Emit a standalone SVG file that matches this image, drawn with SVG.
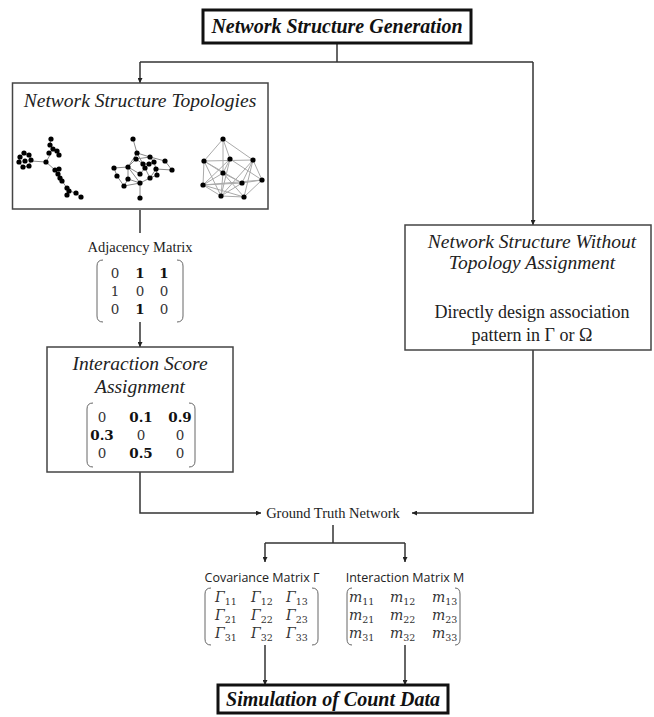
<svg xmlns="http://www.w3.org/2000/svg" width="654" height="717" viewBox="0 0 654 717">
<defs>
<marker id="ah" viewBox="0 0 10 10" refX="10" refY="5" markerWidth="5" markerHeight="5" orient="auto" markerUnits="userSpaceOnUse">
<path d="M0,0 L10,5 L0,10 z" fill="#222"/>
</marker>
<style>
.box{fill:#fff;stroke:#444;stroke-width:1.5}
.thick{fill:#fff;stroke:#111;stroke-width:3}
.conn{fill:none;stroke:#333;stroke-width:1.5}
.arr{fill:none;stroke:#333;stroke-width:1.5;marker-end:url(#ah)}
.ti{font-family:"Liberation Serif",serif;font-style:italic;fill:#222;text-anchor:middle}
.tb{font-family:"Liberation Serif",serif;font-style:italic;font-weight:bold;fill:#111;text-anchor:middle;font-size:20px}
.tr{font-family:"Liberation Serif",serif;fill:#222;text-anchor:middle}
.ts{font-family:"Open Sans","Noto Sans",sans-serif;fill:#222;text-anchor:middle;font-size:12.5px}
.mn{font-family:"DejaVu Serif",serif;fill:#333;text-anchor:middle;font-size:13.5px}
.mb{font-weight:bold;fill:#111}
.mi{font-family:"DejaVu Serif",serif;font-style:italic;fill:#333;font-size:14px}
.sub{font-size:9.5px;font-style:normal}
.par{fill:none;stroke:#666;stroke-width:1}
.e{stroke:#8a8a8a;stroke-width:1;fill:none}
.e2{stroke:#aaa;stroke-width:1;fill:none}
.n{fill:#000}
</style>
</defs>

<g id="connectors">
<line class="conn" x1="337" y1="43" x2="337" y2="62"/>
<line class="conn" x1="140" y1="62" x2="533" y2="62"/>
<line class="arr" x1="140" y1="62" x2="140" y2="83"/>
<line class="arr" x1="533" y1="62" x2="533" y2="225"/>
<line class="conn" x1="140" y1="210" x2="140" y2="233"/>
<line class="arr" x1="140" y1="322" x2="140" y2="347"/>
<polyline class="arr" points="140,472 140,513 261,513"/>
<polyline class="arr" points="533,350 533,513 412,513"/>
<line class="conn" x1="333" y1="525" x2="333" y2="543"/>
<line class="conn" x1="265" y1="543" x2="405" y2="543"/>
<line class="arr" x1="265" y1="543" x2="265" y2="562"/>
<line class="arr" x1="405" y1="543" x2="405" y2="562"/>
<line class="arr" x1="265" y1="645" x2="265" y2="685"/>
<line class="arr" x1="405" y1="645" x2="405" y2="685"/>
</g>

<g id="generation">
<rect class="thick" x="203" y="10" width="268" height="33"/>
<text class="tb" x="337" y="33">Network Structure Generation</text>
</g>

<g id="topologies">
<rect class="box" x="12.5" y="83" width="255.5" height="126"/>
<text class="ti" x="140" y="107" font-size="19.5">Network Structure Topologies</text>
<g id="tree">
<path class="e" d="M31,161 L46,162 L50,155 L51,151 L53,149 L50,145 L51,139 M53,149 L57,151 L59,154 M46,162 L55,170 L58,174 L60,177 L62,181 L67,188 L69,191 L76,193 L81,197 M55,170 L59,169 M69,191 L67,194 M20,157 L24,153 L29,155 L31,160 L29,166 L23,167 L19,162 Z"/>
<g class="n">
<circle cx="46" cy="162" r="2.6"/>
<circle cx="20" cy="157" r="2.6"/><circle cx="24" cy="153" r="2.6"/><circle cx="29" cy="155" r="2.6"/><circle cx="31" cy="160" r="2.6"/><circle cx="29" cy="166" r="2.6"/><circle cx="23" cy="167" r="2.6"/><circle cx="19" cy="162" r="2.6"/><circle cx="25" cy="161" r="2.6"/>
<circle cx="51" cy="139" r="2.6"/><circle cx="50" cy="145" r="2.6"/><circle cx="53" cy="149" r="2.6"/><circle cx="49" cy="153" r="2.6"/><circle cx="57" cy="151" r="2.6"/><circle cx="59" cy="155" r="2.6"/>
<circle cx="55" cy="170" r="2.6"/><circle cx="59" cy="169" r="2.6"/><circle cx="58" cy="174" r="2.6"/><circle cx="60" cy="178" r="2.6"/><circle cx="62" cy="181" r="2.6"/><circle cx="67" cy="188" r="2.6"/><circle cx="69" cy="191" r="2.6"/><circle cx="67" cy="195" r="2.6"/><circle cx="76" cy="193" r="2.6"/><circle cx="81" cy="197" r="2.6"/>
</g>
</g>
<g id="mesh">
<path class="e" d="M133,139 L137,153 L150,157 L165,161 L172,170 L156,169 L157,175 L150,178 L140,183 L128,179 L124,186 L117,176 L114,168 L128,167 L137,153 M128,167 L136,159 L143,164 L149,164 L154,162 L150,157 M143,164 L145,168 L140,174 L128,167 L140,183 L140,198 M145,168 L150,178 M149,164 L145,168 M154,162 L156,169 M136,159 L150,157 M124,186 L140,183 M156,169 L150,178 M128,179 L128,167 M137,153 L143,164"/>
<g class="n">
<circle cx="133" cy="139" r="2.6"/><circle cx="137" cy="153" r="2.6"/><circle cx="150" cy="157" r="2.6"/><circle cx="136" cy="159" r="2.6"/><circle cx="165" cy="161" r="2.6"/><circle cx="143" cy="164" r="2.6"/><circle cx="149" cy="164" r="2.6"/><circle cx="154" cy="162" r="2.6"/><circle cx="114" cy="168" r="2.6"/><circle cx="128" cy="167" r="2.6"/><circle cx="145" cy="168" r="2.6"/><circle cx="156" cy="169" r="2.6"/><circle cx="172" cy="170" r="2.6"/><circle cx="140" cy="174" r="2.6"/><circle cx="117" cy="176" r="2.6"/><circle cx="157" cy="175" r="2.6"/><circle cx="150" cy="178" r="2.6"/><circle cx="128" cy="179" r="2.6"/><circle cx="124" cy="186" r="2.6"/><circle cx="140" cy="183" r="2.6"/><circle cx="140" cy="198" r="2.6"/>
</g>
</g>
<g id="dense">
<path class="e2" d="M223,139 L204,161 M223,139 L230,159 M223,139 L253,160 M223,139 L223,173 M204,161 L253,160 M204,161 L223,173 M204,161 L203,185 M204,161 L242,183 M204,161 L221,196 M230,159 L223,173 M230,159 L203,185 M230,159 L221,196 M230,159 L262,180 M253,160 L262,180 M253,160 L242,183 M253,160 L244,197 M253,160 L221,196 M223,173 L203,185 M223,173 L242,183 M223,173 L244,197 M223,173 L221,196 M203,185 L221,196 M203,185 L242,183 M203,185 L244,197 M242,183 L262,180 M242,183 L221,196 M262,180 L244,197 M221,196 L244,197 M203,185 L262,180"/>
<g class="n">
<circle cx="223" cy="139" r="2.6"/><circle cx="204" cy="161" r="2.6"/><circle cx="230" cy="159" r="2.6"/><circle cx="253" cy="160" r="2.6"/><circle cx="223" cy="173" r="2.6"/><circle cx="203" cy="185" r="2.6"/><circle cx="242" cy="183" r="2.6"/><circle cx="262" cy="180" r="2.6"/><circle cx="221" cy="196" r="2.6"/><circle cx="244" cy="197" r="2.6"/>
</g>
</g>
</g>

<g id="adjacency">
<text class="tr" x="140" y="252" font-size="14.5">Adjacency Matrix</text>
<path class="par" d="M103,260 Q97,260 97,266 L97,316 Q97,322 103,322"/>
<path class="par" d="M177,260 Q183,260 183,266 L183,316 Q183,322 177,322"/>
<text class="mn" x="115" y="278">0</text><text class="mn mb" x="140" y="278">1</text><text class="mn mb" x="164" y="278">1</text>
<text class="mn" x="115" y="296">1</text><text class="mn" x="140" y="296">0</text><text class="mn" x="164" y="296">0</text>
<text class="mn" x="115" y="314">0</text><text class="mn mb" x="140" y="314">1</text><text class="mn" x="164" y="314">0</text>
</g>

<g id="interaction">
<rect class="box" x="47" y="347" width="186" height="125"/>
<text class="ti" x="140" y="370" font-size="19.5">Interaction Score</text>
<text class="ti" x="140" y="393" font-size="19.5">Assignment</text>
<path class="par" d="M93,403 Q87,403 87,409 L87,461 Q87,467 93,467"/>
<path class="par" d="M189,403 Q195,403 195,409 L195,461 Q195,467 189,467"/>
<text class="mn" x="102" y="422">0</text><text class="mn mb" x="141" y="422">0.1</text><text class="mn mb" x="180" y="422">0.9</text>
<text class="mn mb" x="102" y="440">0.3</text><text class="mn" x="141" y="440">0</text><text class="mn" x="180" y="440">0</text>
<text class="mn" x="102" y="458">0</text><text class="mn mb" x="141" y="458">0.5</text><text class="mn" x="180" y="458">0</text>
</g>

<g id="without">
<rect class="box" x="405" y="225" width="246" height="125"/>
<text class="ti" x="532" y="248" font-size="19.5">Network Structure Without</text>
<text class="ti" x="532" y="269" font-size="19.5">Topology Assignment</text>
<text class="tr" x="532" y="318" font-size="18">Directly design association</text>
<text class="tr" x="532" y="341" font-size="18">pattern in Γ or Ω</text>
</g>

<g id="groundtruth">
<text class="tr" x="333" y="518" font-size="14.5">Ground Truth Network</text>
</g>

<g id="covariance">
<text class="ts" x="262" y="582">Covariance Matrix Γ</text>
<path class="par" d="M211,588 Q205,588 205,594 L205,639 Q205,645 211,645"/>
<path class="par" d="M312,588 Q318,588 318,594 L318,639 Q318,645 312,645"/>
<text class="mi" x="215" y="602">Γ<tspan class="sub" dy="3">11</tspan></text>
<text class="mi" x="251" y="602">Γ<tspan class="sub" dy="3">12</tspan></text>
<text class="mi" x="286" y="602">Γ<tspan class="sub" dy="3">13</tspan></text>
<text class="mi" x="215" y="620">Γ<tspan class="sub" dy="3">21</tspan></text>
<text class="mi" x="251" y="620">Γ<tspan class="sub" dy="3">22</tspan></text>
<text class="mi" x="286" y="620">Γ<tspan class="sub" dy="3">23</tspan></text>
<text class="mi" x="215" y="638">Γ<tspan class="sub" dy="3">31</tspan></text>
<text class="mi" x="251" y="638">Γ<tspan class="sub" dy="3">32</tspan></text>
<text class="mi" x="286" y="638">Γ<tspan class="sub" dy="3">33</tspan></text>
</g>

<g id="interactionM">
<text class="ts" x="405" y="582" font-size="13">Interaction Matrix M</text>
<path class="par" d="M352,588 Q347,588 347,594 L347,639 Q347,645 352,645"/>
<path class="par" d="M455,588 Q460,588 460,594 L460,639 Q460,645 455,645"/>
<text class="mi" x="349" y="602">m<tspan class="sub" dy="3">11</tspan></text>
<text class="mi" x="390" y="602">m<tspan class="sub" dy="3">12</tspan></text>
<text class="mi" x="432" y="602">m<tspan class="sub" dy="3">13</tspan></text>
<text class="mi" x="349" y="620">m<tspan class="sub" dy="3">21</tspan></text>
<text class="mi" x="390" y="620">m<tspan class="sub" dy="3">22</tspan></text>
<text class="mi" x="432" y="620">m<tspan class="sub" dy="3">23</tspan></text>
<text class="mi" x="349" y="638">m<tspan class="sub" dy="3">31</tspan></text>
<text class="mi" x="390" y="638">m<tspan class="sub" dy="3">32</tspan></text>
<text class="mi" x="432" y="638">m<tspan class="sub" dy="3">33</tspan></text>
</g>

<g id="simulation">
<rect class="thick" x="218" y="685" width="230" height="28"/>
<text class="tb" x="333" y="706">Simulation of Count Data</text>
</g>
</svg>
